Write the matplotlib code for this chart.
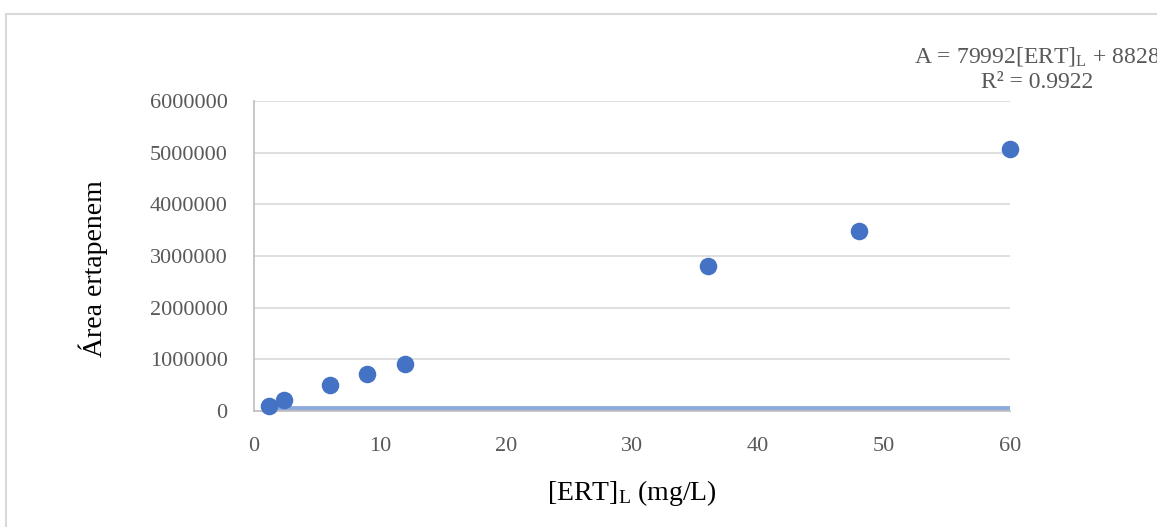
import matplotlib
matplotlib.use('Agg')
import matplotlib.pyplot as plt
from matplotlib.patches import Rectangle

plt.rcParams['font.family'] = ['Liberation Serif', 'DejaVu Serif']
plt.rcParams['mathtext.fontset'] = 'custom'
plt.rcParams['mathtext.rm'] = 'Liberation Serif'
plt.rcParams['mathtext.it'] = 'Liberation Serif:italic'

# data
conc = [1.2, 2.4, 6, 9, 12, 36, 48, 60]
area = [100000, 210000, 500000, 710000, 910000, 2800000, 3480000, 5070000]
trend_x = [1.2, 60]
trend_y = [60000, 60000]
x_ticks = [0, 10, 20, 30, 40, 50, 60]
y_ticks = [0, 1000000, 2000000, 3000000, 4000000, 5000000, 6000000]

W, H = 1157, 527
fig = plt.figure(figsize=(W / 100, H / 100), dpi=100)
ax = fig.add_axes([254 / W, 1 - 411 / H, (1010 - 254) / W, (411 - 101) / H])

# outer chart border (Excel style)
fig.patches.append(Rectangle((6 / W, -0.1), 1.2, 1 - 14 / H + 0.1, transform=fig.transFigure,
                             fill=False, edgecolor='#D9D9D9', linewidth=1.5))

ax.plot(trend_x, trend_y, color='#8FAADC', linewidth=3.5, zorder=2, solid_capstyle='butt')
ax.scatter(conc, area, s=135, color='#4472C4', zorder=3, clip_on=False)

ax.set_xlim(0, 60)
ax.set_ylim(0, 6000000)
ax.set_xticks(x_ticks)
ax.set_yticks(y_ticks)
ax.set_yticklabels([str(v) for v in y_ticks])
ax.tick_params(length=0, labelsize=16, labelcolor='#595959')
ax.tick_params(axis='y', pad=19)
ax.tick_params(axis='x', pad=19)
ax.grid(axis='y', color='#D9D9D9', linewidth=1.2)
ax.set_axisbelow(True)
for side in ['top', 'right']:
    ax.spines[side].set_visible(False)
for side in ['left', 'bottom']:
    ax.spines[side].set_color('#BFBFBF')
    ax.spines[side].set_linewidth(1.2)

ax.set_xlabel(r'[ERT]$_\mathrm{L}$ (mg/L)', fontsize=20, va='center')
ax.xaxis.set_label_coords(0.5, -0.265)
ax.set_ylabel('Área ertapenem', fontsize=20, va='center')
ax.yaxis.set_label_coords(-0.213, 0.46)

fig.text(1037 / W, 1 - 57 / H, r'A = 79992[ERT]$_\mathrm{L}$ + 8828', fontsize=17,
         color='#595959', ha='center', va='center')
fig.text(1037 / W, 1 - 82 / H, 'R² = 0.9922', fontsize=17,
         color='#595959', ha='center', va='center')

fig.savefig('out.png', dpi=100)
